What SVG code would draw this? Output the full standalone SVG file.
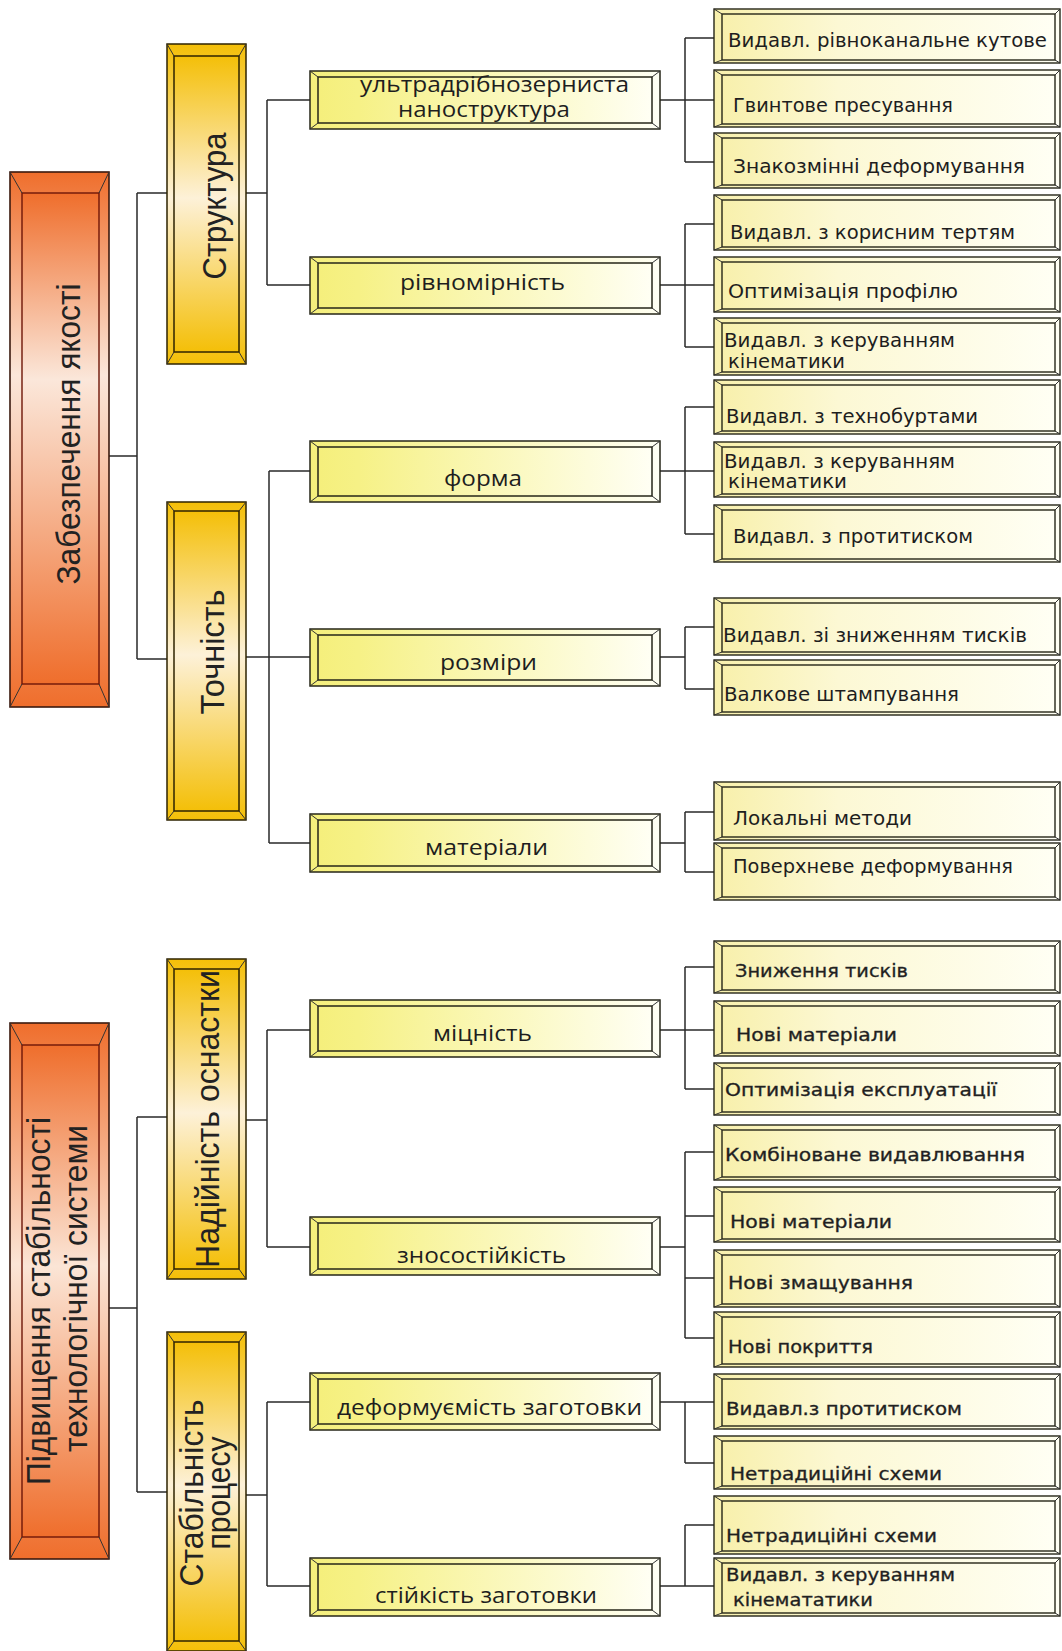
<svg xmlns="http://www.w3.org/2000/svg" width="1062" height="1651" viewBox="0 0 1062 1651">
<defs>
<linearGradient id="gOr1" x1="0" y1="0" x2="0" y2="1"><stop offset="0" stop-color="#ef6e2c"/><stop offset="0.38" stop-color="#fbe7da"/><stop offset="1" stop-color="#ef6e2c"/></linearGradient>
<linearGradient id="gOr2" x1="0" y1="0" x2="0" y2="1"><stop offset="0" stop-color="#ef6e2c"/><stop offset="0.45" stop-color="#fbe5d6"/><stop offset="1" stop-color="#ef6e2c"/></linearGradient>
<linearGradient id="gGold" x1="0" y1="0" x2="0" y2="1"><stop offset="0" stop-color="#f4bf08"/><stop offset="0.48" stop-color="#fdf1d8"/><stop offset="1" stop-color="#f4bf08"/></linearGradient>
<linearGradient id="gY2" x1="0" y1="0" x2="1" y2="0"><stop offset="0" stop-color="#f5ef7c"/><stop offset="0.12" stop-color="#f6f186"/><stop offset="1" stop-color="#fffff4"/></linearGradient>
<linearGradient id="gY3" x1="0" y1="0" x2="1" y2="0"><stop offset="0" stop-color="#f8f0ac"/><stop offset="0.35" stop-color="#fcf8d4"/><stop offset="1" stop-color="#fffff4"/></linearGradient>
</defs>
<style>
.o0{stroke:#3b1a0e;stroke-width:1.6}
.i0{stroke:#6e1608;stroke-width:1.4}
.o1,.i1{fill:url(#gGold);stroke:#2e2300;stroke-width:1.5}
.o2,.i2{fill:url(#gY2);stroke:#262618;stroke-width:1.5}
.o3,.i3{fill:url(#gY3);stroke:#262618;stroke-width:1.4}
.bv{fill:none;stroke:#333;stroke-width:1}
.cn{fill:none;stroke:#2a2a2a;stroke-width:1.5}
.t1{font-family:"Liberation Sans",Arial,sans-serif;font-size:33px;fill:#222}
.t2{font-family:"Open Sans","Liberation Sans",sans-serif;font-size:21px;fill:#1e1e1e}
.t3{font-family:"DejaVu Sans",Verdana,sans-serif;font-size:18px;fill:#1e1e1e}
.tu{font-size:19.5px}
.tb{stroke:#2a2a2a;stroke-width:0.35}
</style>
<rect width="1062" height="1651" fill="#ffffff"/>

<g id="connectors">
<path class="cn" d="M109 456H137M137 193V659M137 193H167M137 659H167
M109 1308H137M137 1117V1492M137 1117H167M137 1492H167
M246 193H267M267 100V285M267 100H310M267 285H310
M246 657H310M269 471V843M269 471H310M269 843H310
M246 1120H267M267 1030V1247M267 1030H310M267 1247H310
M246 1495H267M267 1402V1586M267 1402H310M267 1586H310
M660 100H714M685 38V162M685 38H714M685 162H714
M660 285H714M685 224V347M685 224H714M685 347H714
M660 471H714M685 407V534M685 407H714M685 534H714
M660 657H685M685 627V689M685 627H714M685 689H714
M660 843H685M685 812V872M685 812H714M685 872H714
M660 1030H714M685 967V1089M685 967H714M685 1089H714
M660 1247H685M685 1152V1338M685 1152H714M685 1216H714M685 1278H714M685 1338H714
M660 1402H714M685 1402V1463M685 1463H714
M660 1586H714M685 1525V1586M685 1525H714"/>
</g>

<!-- Level 0 -->
<g id="n-zabezpechennia">
<rect class="o0" fill="url(#gOr1)" x="10" y="172" width="99" height="535"/>
<rect class="i0" fill="url(#gOr1)" x="22" y="193" width="77" height="491"/>
<path class="bv" d="M10 172L22 193M109 172L99 193M10 707L22 684M109 707L99 684"/>
<text class="t1" font-size="34" transform="translate(80,434) rotate(-90)" text-anchor="middle" textLength="301" lengthAdjust="spacingAndGlyphs">Забезпечення якості</text>
</g>
<g id="n-pidvyshchennia">
<rect class="o0" fill="url(#gOr2)" x="10" y="1023" width="99" height="536"/>
<rect class="i0" fill="url(#gOr2)" x="22" y="1045" width="77" height="492"/>
<path class="bv" d="M10 1023L22 1045M109 1023L99 1045M10 1559L22 1537M109 1559L99 1537"/>
<text class="t1" font-size="34" transform="translate(50,1485) rotate(-90)" textLength="368" lengthAdjust="spacingAndGlyphs">Підвищення стабільності</text>
<text class="t1" font-size="34" transform="translate(87,1452) rotate(-90)" textLength="327" lengthAdjust="spacingAndGlyphs">технологічної системи</text>
</g>

<!-- Level 1 -->
<g id="n-struktura">
<rect class="o1" x="167" y="44" width="79" height="320"/>
<rect class="i1" x="174" y="56" width="65" height="296"/>
<path class="bv" d="M167 44L174 56M246 44L239 56M167 364L174 352M246 364L239 352"/>
<text class="t1" transform="translate(226,206) rotate(-90)" text-anchor="middle" textLength="147" lengthAdjust="spacingAndGlyphs">Структура</text>
</g>
<g id="n-tochnist">
<rect class="o1" x="167" y="502" width="79" height="318"/>
<rect class="i1" x="174" y="511" width="65" height="300"/>
<path class="bv" d="M167 502L174 511M246 502L239 511M167 820L174 811M246 820L239 811"/>
<text class="t1" transform="translate(224,652) rotate(-90)" text-anchor="middle" textLength="125" lengthAdjust="spacingAndGlyphs">Точність</text>
</g>
<g id="n-nadiinist">
<rect class="o1" x="167" y="959" width="79" height="320"/>
<rect class="i1" x="174" y="969" width="65" height="300"/>
<path class="bv" d="M167 959L174 969M246 959L239 969M167 1279L174 1269M246 1279L239 1269"/>
<text class="t1" transform="translate(219,1119) rotate(-90)" text-anchor="middle" textLength="298" lengthAdjust="spacingAndGlyphs">Надійність оснастки</text>
</g>
<g id="n-stabilnist">
<rect class="o1" x="167" y="1332" width="79" height="319"/>
<rect class="i1" x="174" y="1342" width="65" height="299"/>
<path class="bv" d="M167 1332L174 1342M246 1332L239 1342M167 1651L174 1641M246 1651L239 1641"/>
<text class="t1" font-size="31" transform="translate(203,1493) rotate(-90)" text-anchor="middle" textLength="187" lengthAdjust="spacingAndGlyphs">Стабільність</text>
<text class="t1" font-size="31" transform="translate(230,1493) rotate(-90)" text-anchor="middle" textLength="113" lengthAdjust="spacingAndGlyphs">процесу</text>
</g>

<!-- Level 2 -->
<g id="n-ultra">
<rect class="o2" x="310" y="71" width="350" height="58"/>
<rect class="i2" x="318" y="77" width="334" height="46"/>
<path class="bv" d="M310 71L318 77M660 71L652 77M310 129L318 123M660 129L652 123"/>
<text class="t2" x="360" y="92" textLength="269" lengthAdjust="spacingAndGlyphs">ультрадрібнозерниста</text>
<text class="t2" x="398" y="117" textLength="172" lengthAdjust="spacingAndGlyphs">наноструктура</text>
</g>
<g id="n-rivnomirnist">
<rect class="o2" x="310" y="257" width="350" height="57"/>
<rect class="i2" x="318" y="263" width="334" height="45"/>
<path class="bv" d="M310 257L318 263M660 257L652 263M310 314L318 308M660 314L652 308"/>
<text class="t2" x="400" y="290" textLength="165" lengthAdjust="spacingAndGlyphs">рівномірність</text>
</g>
<g id="n-forma">
<rect class="o2" x="310" y="441" width="350" height="61"/>
<rect class="i2" x="318" y="447" width="334" height="49"/>
<path class="bv" d="M310 441L318 447M660 441L652 447M310 502L318 496M660 502L652 496"/>
<text class="t2" x="444" y="486" textLength="78" lengthAdjust="spacingAndGlyphs">форма</text>
</g>
<g id="n-rozmiry">
<rect class="o2" x="310" y="629" width="350" height="57"/>
<rect class="i2" x="318" y="635" width="334" height="45"/>
<path class="bv" d="M310 629L318 635M660 629L652 635M310 686L318 680M660 686L652 680"/>
<text class="t2" x="440" y="670" textLength="97" lengthAdjust="spacingAndGlyphs">розміри</text>
</g>
<g id="n-materialy">
<rect class="o2" x="310" y="814" width="350" height="58"/>
<rect class="i2" x="318" y="820" width="334" height="46"/>
<path class="bv" d="M310 814L318 820M660 814L652 820M310 872L318 866M660 872L652 866"/>
<text class="t2" x="425" y="855" textLength="123" lengthAdjust="spacingAndGlyphs">матеріали</text>
</g>
<g id="n-mitsnist">
<rect class="o2" x="310" y="1000" width="350" height="57"/>
<rect class="i2" x="318" y="1006" width="334" height="45"/>
<path class="bv" d="M310 1000L318 1006M660 1000L652 1006M310 1057L318 1051M660 1057L652 1051"/>
<text class="t2" x="433" y="1041" textLength="99" lengthAdjust="spacingAndGlyphs">міцність</text>
</g>
<g id="n-znosostiikist">
<rect class="o2" x="310" y="1217" width="350" height="58"/>
<rect class="i2" x="318" y="1223" width="334" height="46"/>
<path class="bv" d="M310 1217L318 1223M660 1217L652 1223M310 1275L318 1269M660 1275L652 1269"/>
<text class="t2" x="397" y="1263" textLength="169" lengthAdjust="spacingAndGlyphs">зносостійкість</text>
</g>
<g id="n-deformuiemist">
<rect class="o2" x="310" y="1373" width="350" height="57"/>
<rect class="i2" x="318" y="1379" width="334" height="45"/>
<path class="bv" d="M310 1373L318 1379M660 1373L652 1379M310 1430L318 1424M660 1430L652 1424"/>
<text class="t2" x="337" y="1415" textLength="305" lengthAdjust="spacingAndGlyphs">деформуємість заготовки</text>
</g>
<g id="n-stiikist">
<rect class="o2" x="310" y="1558" width="350" height="58"/>
<rect class="i2" x="318" y="1564" width="334" height="46"/>
<path class="bv" d="M310 1558L318 1564M660 1558L652 1564M310 1616L318 1610M660 1616L652 1610"/>
<text class="t2" x="375" y="1603" textLength="222" lengthAdjust="spacingAndGlyphs">стійкість заготовки</text>
</g>

<!-- Level 3 -->
<g id="l3-01"><rect class="o3" x="714" y="9" width="346" height="54"/><rect class="i3" x="722" y="14" width="333" height="46"/><path class="bv" d="M714 9L722 14M1060 9L1055 14M714 63L722 60M1060 63L1055 60"/>
<text class="t3 tu" x="728" y="47" textLength="319" lengthAdjust="spacingAndGlyphs">Видавл. рівноканальне кутове</text></g>
<g id="l3-02"><rect class="o3" x="714" y="70" width="346" height="57"/><rect class="i3" x="722" y="75" width="333" height="49"/><path class="bv" d="M714 70L722 75M1060 70L1055 75M714 127L722 124M1060 127L1055 124"/>
<text class="t3 tu" x="733" y="112" textLength="220" lengthAdjust="spacingAndGlyphs">Гвинтове пресування</text></g>
<g id="l3-03"><rect class="o3" x="714" y="133" width="346" height="55"/><rect class="i3" x="722" y="138" width="333" height="47"/><path class="bv" d="M714 133L722 138M1060 133L1055 138M714 188L722 185M1060 188L1055 185"/>
<text class="t3 tu" x="733" y="173" textLength="292" lengthAdjust="spacingAndGlyphs">Знакозмінні деформування</text></g>
<g id="l3-04"><rect class="o3" x="714" y="195" width="346" height="55"/><rect class="i3" x="722" y="200" width="333" height="47"/><path class="bv" d="M714 195L722 200M1060 195L1055 200M714 250L722 247M1060 250L1055 247"/>
<text class="t3 tu" x="730" y="239" textLength="285" lengthAdjust="spacingAndGlyphs">Видавл. з корисним тертям</text></g>
<g id="l3-05"><rect class="o3" x="714" y="257" width="346" height="55"/><rect class="i3" x="722" y="262" width="333" height="47"/><path class="bv" d="M714 257L722 262M1060 257L1055 262M714 312L722 309M1060 312L1055 309"/>
<text class="t3 tu" x="728" y="298" textLength="230" lengthAdjust="spacingAndGlyphs">Оптимізація профілю</text></g>
<g id="l3-06"><rect class="o3" x="714" y="318" width="346" height="57"/><rect class="i3" x="722" y="323" width="333" height="49"/><path class="bv" d="M714 318L722 323M1060 318L1055 323M714 375L722 372M1060 375L1055 372"/>
<text class="t3 tu" x="724" y="347" textLength="231" lengthAdjust="spacingAndGlyphs">Видавл. з керуванням</text>
<text class="t3 tu" x="728" y="368" textLength="117" lengthAdjust="spacingAndGlyphs">кінематики</text></g>
<g id="l3-07"><rect class="o3" x="714" y="380" width="346" height="54"/><rect class="i3" x="722" y="385" width="333" height="46"/><path class="bv" d="M714 380L722 385M1060 380L1055 385M714 434L722 431M1060 434L1055 431"/>
<text class="t3 tu" x="726" y="423" textLength="252" lengthAdjust="spacingAndGlyphs">Видавл. з технобуртами</text></g>
<g id="l3-08"><rect class="o3" x="714" y="442" width="346" height="55"/><rect class="i3" x="722" y="447" width="333" height="47"/><path class="bv" d="M714 442L722 447M1060 442L1055 447M714 497L722 494M1060 497L1055 494"/>
<text class="t3 tu" x="724" y="468" textLength="231" lengthAdjust="spacingAndGlyphs">Видавл. з керуванням</text>
<text class="t3 tu" x="728" y="488" textLength="119" lengthAdjust="spacingAndGlyphs">кінематики</text></g>
<g id="l3-09"><rect class="o3" x="714" y="505" width="346" height="57"/><rect class="i3" x="722" y="510" width="333" height="49"/><path class="bv" d="M714 505L722 510M1060 505L1055 510M714 562L722 559M1060 562L1055 559"/>
<text class="t3 tu" x="733" y="543" textLength="240" lengthAdjust="spacingAndGlyphs">Видавл. з протитиском</text></g>
<g id="l3-10"><rect class="o3" x="714" y="598" width="346" height="57"/><rect class="i3" x="722" y="603" width="333" height="49"/><path class="bv" d="M714 598L722 603M1060 598L1055 603M714 655L722 652M1060 655L1055 652"/>
<text class="t3 tu" x="723" y="642" textLength="304" lengthAdjust="spacingAndGlyphs">Видавл. зі зниженням тисків</text></g>
<g id="l3-11"><rect class="o3" x="714" y="660" width="346" height="55"/><rect class="i3" x="722" y="665" width="333" height="47"/><path class="bv" d="M714 660L722 665M1060 660L1055 665M714 715L722 712M1060 715L1055 712"/>
<text class="t3 tu" x="724" y="701" textLength="235" lengthAdjust="spacingAndGlyphs">Валкове штампування</text></g>
<g id="l3-12"><rect class="o3" x="714" y="782" width="346" height="58"/><rect class="i3" x="722" y="787" width="333" height="50"/><path class="bv" d="M714 782L722 787M1060 782L1055 787M714 840L722 837M1060 840L1055 837"/>
<text class="t3 tu" x="733" y="825" textLength="179" lengthAdjust="spacingAndGlyphs">Локальні методи</text></g>
<g id="l3-13"><rect class="o3" x="714" y="843" width="346" height="57"/><rect class="i3" x="722" y="848" width="333" height="49"/><path class="bv" d="M714 843L722 848M1060 843L1055 848M714 900L722 897M1060 900L1055 897"/>
<text class="t3 tu" x="733" y="873" textLength="280" lengthAdjust="spacingAndGlyphs">Поверхневе деформування</text></g>
<g id="l3-14"><rect class="o3" x="714" y="941" width="346" height="52"/><rect class="i3" x="722" y="946" width="333" height="44"/><path class="bv" d="M714 941L722 946M1060 941L1055 946M714 993L722 990M1060 993L1055 990"/>
<text class="t3 tb" x="735" y="977" textLength="173" lengthAdjust="spacingAndGlyphs">Зниження тисків</text></g>
<g id="l3-15"><rect class="o3" x="714" y="1001" width="346" height="55"/><rect class="i3" x="722" y="1006" width="333" height="47"/><path class="bv" d="M714 1001L722 1006M1060 1001L1055 1006M714 1056L722 1053M1060 1056L1055 1053"/>
<text class="t3 tb" x="736" y="1041" textLength="161" lengthAdjust="spacingAndGlyphs">Нові матеріали</text></g>
<g id="l3-16"><rect class="o3" x="714" y="1063" width="346" height="52"/><rect class="i3" x="722" y="1068" width="333" height="44"/><path class="bv" d="M714 1063L722 1068M1060 1063L1055 1068M714 1115L722 1112M1060 1115L1055 1112"/>
<text class="t3 tb" x="725" y="1096" textLength="272" lengthAdjust="spacingAndGlyphs">Оптимізація експлуатації</text></g>
<g id="l3-17"><rect class="o3" x="714" y="1125" width="346" height="55"/><rect class="i3" x="722" y="1130" width="333" height="47"/><path class="bv" d="M714 1125L722 1130M1060 1125L1055 1130M714 1180L722 1177M1060 1180L1055 1177"/>
<text class="t3 tb" x="725" y="1161" textLength="300" lengthAdjust="spacingAndGlyphs">Комбіноване видавлювання</text></g>
<g id="l3-18"><rect class="o3" x="714" y="1187" width="346" height="55"/><rect class="i3" x="722" y="1192" width="333" height="47"/><path class="bv" d="M714 1187L722 1192M1060 1187L1055 1192M714 1242L722 1239M1060 1242L1055 1239"/>
<text class="t3 tb" x="730" y="1228" textLength="162" lengthAdjust="spacingAndGlyphs">Нові матеріали</text></g>
<g id="l3-19"><rect class="o3" x="714" y="1250" width="346" height="57"/><rect class="i3" x="722" y="1255" width="333" height="49"/><path class="bv" d="M714 1250L722 1255M1060 1250L1055 1255M714 1307L722 1304M1060 1307L1055 1304"/>
<text class="t3 tb" x="728" y="1289" textLength="185" lengthAdjust="spacingAndGlyphs">Нові змащування</text></g>
<g id="l3-20"><rect class="o3" x="714" y="1312" width="346" height="55"/><rect class="i3" x="722" y="1317" width="333" height="47"/><path class="bv" d="M714 1312L722 1317M1060 1312L1055 1317M714 1367L722 1364M1060 1367L1055 1364"/>
<text class="t3 tb" x="728" y="1353" textLength="145" lengthAdjust="spacingAndGlyphs">Нові покриття</text></g>
<g id="l3-21"><rect class="o3" x="714" y="1374" width="346" height="55"/><rect class="i3" x="722" y="1379" width="333" height="47"/><path class="bv" d="M714 1374L722 1379M1060 1374L1055 1379M714 1429L722 1426M1060 1429L1055 1426"/>
<text class="t3 tb" x="726" y="1415" textLength="236" lengthAdjust="spacingAndGlyphs">Видавл.з протитиском</text></g>
<g id="l3-22"><rect class="o3" x="714" y="1436" width="346" height="53"/><rect class="i3" x="722" y="1441" width="333" height="45"/><path class="bv" d="M714 1436L722 1441M1060 1436L1055 1441M714 1489L722 1486M1060 1489L1055 1486"/>
<text class="t3 tb" x="730" y="1480" textLength="212" lengthAdjust="spacingAndGlyphs">Нетрадиційні схеми</text></g>
<g id="l3-23"><rect class="o3" x="714" y="1496" width="346" height="58"/><rect class="i3" x="722" y="1501" width="333" height="50"/><path class="bv" d="M714 1496L722 1501M1060 1496L1055 1501M714 1554L722 1551M1060 1554L1055 1551"/>
<text class="t3 tb" x="726" y="1542" textLength="211" lengthAdjust="spacingAndGlyphs">Нетрадиційні схеми</text></g>
<g id="l3-24"><rect class="o3" x="714" y="1558" width="346" height="58"/><rect class="i3" x="722" y="1563" width="333" height="50"/><path class="bv" d="M714 1558L722 1563M1060 1558L1055 1563M714 1616L722 1613M1060 1616L1055 1613"/>
<text class="t3 tb" x="726" y="1581" textLength="229" lengthAdjust="spacingAndGlyphs">Видавл. з керуванням</text>
<text class="t3 tb" x="733" y="1606" textLength="140" lengthAdjust="spacingAndGlyphs">кінемататики</text></g>
</svg>
